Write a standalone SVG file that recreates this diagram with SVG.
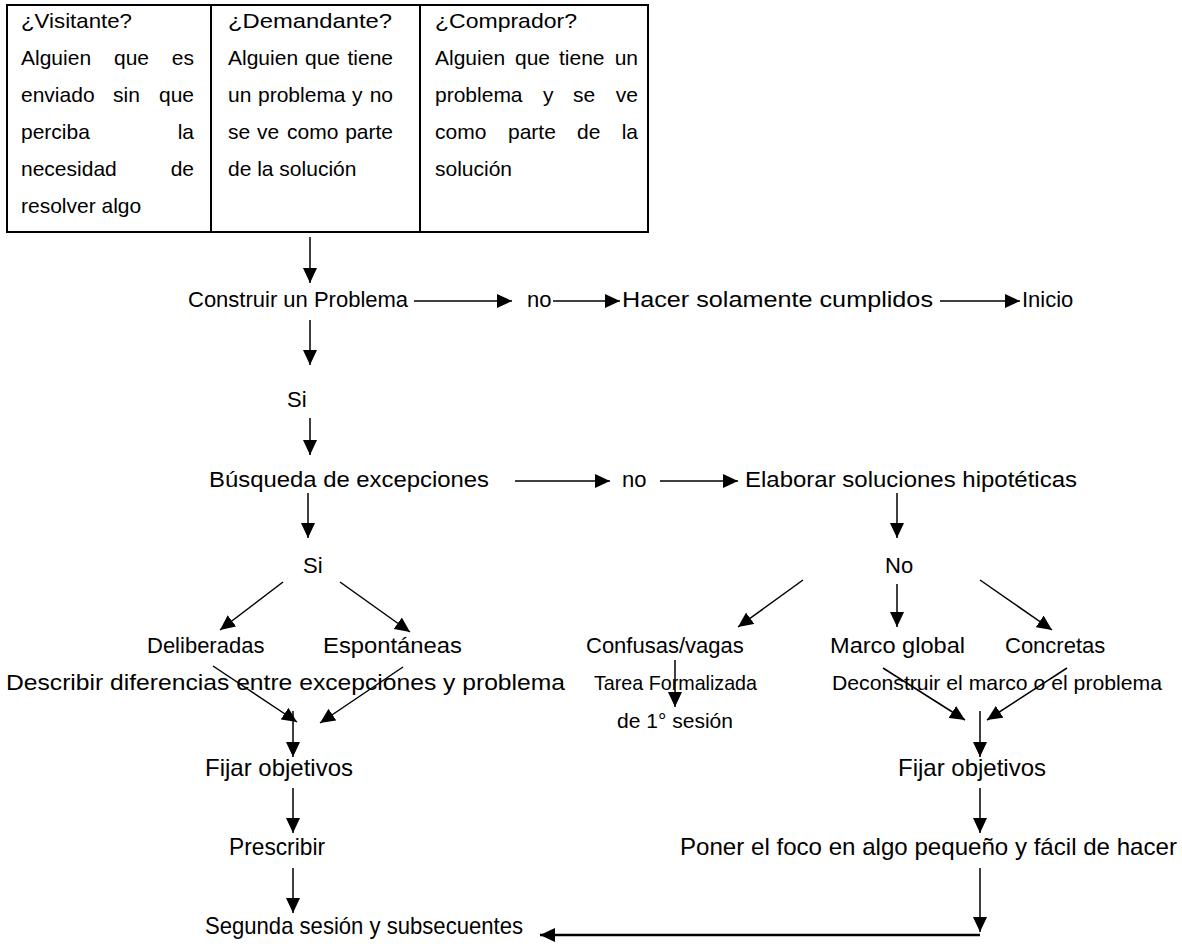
<svg xmlns="http://www.w3.org/2000/svg" width="1182" height="947" viewBox="0 0 1182 947">
<defs>
<marker id="ah" markerUnits="userSpaceOnUse" markerWidth="16" markerHeight="14" refX="15" refY="7" orient="auto">
<path d="M0,0 L15,7 L0,14 z" fill="#000"/>
</marker>
<style>
text{font-family:"Liberation Sans",Arial,sans-serif;fill:#000}
.t{font-size:21px}
.f{font-size:22px}
.n{font-size:24px}
.s{font-size:21px}
.c line{stroke:#000;stroke-width:1.5;fill:none}
.c .a{marker-end:url(#ah)}
.tb{fill:none;stroke:#000;stroke-width:2}
</style>
</defs>
<rect width="1182" height="947" fill="#fff"/>
<g id="table">
<rect class="tb" x="7" y="5" width="641" height="227"/>
<line class="tb" x1="211" y1="5" x2="211" y2="232"/>
<line class="tb" x1="420" y1="5" x2="420" y2="232"/>
<g id="visitante" class="t">
<text x="21" y="28" textLength="111" lengthAdjust="spacingAndGlyphs">¿Visitante?</text>
<text x="21" y="65">Alguien</text><text x="114" y="65">que</text><text x="194" y="65" text-anchor="end">es</text>
<text x="21" y="102">enviado</text><text x="113" y="102">sin</text><text x="194" y="102" text-anchor="end">que</text>
<text x="21" y="139">perciba</text><text x="194" y="139" text-anchor="end">la</text>
<text x="21" y="176">necesidad</text><text x="194" y="176" text-anchor="end">de</text>
<text x="21" y="213">resolver algo</text>
</g>
<g id="demandante" class="t">
<text x="228" y="28" textLength="164" lengthAdjust="spacingAndGlyphs">¿Demandante?</text>
<text x="228" y="65">Alguien</text><text x="305" y="65">que</text><text x="393" y="65" text-anchor="end">tiene</text>
<text x="228" y="102">un</text><text x="258" y="102">problema</text><text x="352" y="102">y</text><text x="393" y="102" text-anchor="end">no</text>
<text x="228" y="139">se</text><text x="257" y="139">ve</text><text x="287" y="139">como</text><text x="393" y="139" text-anchor="end">parte</text>
<text x="228" y="176">de la solución</text>
</g>
<g id="comprador" class="t">
<text x="435" y="28" textLength="142" lengthAdjust="spacingAndGlyphs">¿Comprador?</text>
<text x="435" y="65">Alguien</text><text x="515" y="65">que</text><text x="559" y="65">tiene</text><text x="638" y="65" text-anchor="end">un</text>
<text x="435" y="102">problema</text><text x="543" y="102">y</text><text x="573" y="102">se</text><text x="638" y="102" text-anchor="end">ve</text>
<text x="435" y="139">como</text><text x="508" y="139">parte</text><text x="577" y="139">de</text><text x="638" y="139" text-anchor="end">la</text>
<text x="435" y="176">solución</text>
</g>
</g>
<g id="construir"><text class="f" x="188" y="307">Construir un Problema</text></g>
<g id="no1"><text class="f" x="527" y="307">no</text></g>
<g id="hacer"><text class="f" x="622" y="307" textLength="311" lengthAdjust="spacingAndGlyphs">Hacer solamente cumplidos</text></g>
<g id="inicio"><text class="f" x="1022" y="307">Inicio</text></g>
<g id="si1"><text class="f" x="287" y="407">Si</text></g>
<g id="busqueda"><text class="f" x="209" y="487" textLength="280" lengthAdjust="spacingAndGlyphs">Búsqueda de excepciones</text></g>
<g id="no2"><text class="f" x="622" y="487">no</text></g>
<g id="elaborar"><text class="f" x="745" y="487" textLength="332" lengthAdjust="spacingAndGlyphs">Elaborar soluciones hipotéticas</text></g>
<g id="si2"><text class="f" x="303" y="573">Si</text></g>
<g id="no3"><text class="f" x="885" y="573">No</text></g>
<g id="deliberadas"><text class="f" x="147" y="653">Deliberadas</text></g>
<g id="espontaneas"><text class="f" x="323" y="653" textLength="139" lengthAdjust="spacingAndGlyphs">Espontáneas</text></g>
<g id="confusas"><text class="f" x="586" y="653">Confusas/vagas</text></g>
<g id="marco"><text class="f" x="830" y="653" textLength="135" lengthAdjust="spacingAndGlyphs">Marco global</text></g>
<g id="concretas"><text class="f" x="1005" y="653">Concretas</text></g>
<g id="describir"><text class="f" x="6" y="690" textLength="559" lengthAdjust="spacingAndGlyphs">Describir diferencias entre excepciones y problema</text></g>
<g id="tarea"><text class="s" x="594" y="690" textLength="163" lengthAdjust="spacingAndGlyphs">Tarea Formalizada</text><text class="s" x="617" y="728" textLength="116" lengthAdjust="spacingAndGlyphs">de 1° sesión</text></g>
<g id="deconstruir"><text class="s" x="832" y="690" textLength="330" lengthAdjust="spacingAndGlyphs">Deconstruir el marco o el problema</text></g>
<g id="fijar1"><text class="n" x="205" y="776" textLength="148" lengthAdjust="spacingAndGlyphs">Fijar objetivos</text></g>
<g id="fijar2"><text class="n" x="898" y="776" textLength="148" lengthAdjust="spacingAndGlyphs">Fijar objetivos</text></g>
<g id="prescribir"><text class="n" x="229" y="855" textLength="96" lengthAdjust="spacingAndGlyphs">Prescribir</text></g>
<g id="poner"><text class="n" x="680" y="855" textLength="497" lengthAdjust="spacingAndGlyphs">Poner el foco en algo pequeño y fácil de hacer</text></g>
<g id="segunda"><text class="n" x="205" y="934" textLength="318" lengthAdjust="spacingAndGlyphs">Segunda sesión y subsecuentes</text></g>
<g id="connectors" class="c">
<line class="a" x1="310" y1="237" x2="310" y2="283"/>
<line class="a" x1="414" y1="301" x2="512" y2="301"/>
<line class="a" x1="553" y1="301" x2="620" y2="301"/>
<line class="a" x1="940" y1="301" x2="1020" y2="301"/>
<line class="a" x1="310" y1="320" x2="310" y2="365"/>
<line class="a" x1="310" y1="418" x2="310" y2="455"/>
<line class="a" x1="515" y1="481" x2="610" y2="481"/>
<line class="a" x1="660" y1="481" x2="738" y2="481"/>
<line class="a" x1="308" y1="493" x2="308" y2="538"/>
<line class="a" x1="897" y1="493" x2="897" y2="538"/>
<line class="a" x1="283" y1="582" x2="220" y2="630"/>
<line class="a" x1="340" y1="582" x2="410" y2="632"/>
<line class="a" x1="213" y1="666" x2="297" y2="722"/>
<line class="a" x1="403" y1="667" x2="320" y2="723"/>
<line class="a" x1="293" y1="711" x2="293" y2="757"/>
<line class="a" x1="293" y1="788" x2="293" y2="833"/>
<line class="a" x1="293" y1="868" x2="293" y2="913"/>
<line class="a" x1="803" y1="580" x2="738" y2="627"/>
<line class="a" x1="897" y1="584" x2="897" y2="627"/>
<line class="a" x1="980" y1="580" x2="1052" y2="630"/>
<line class="a" x1="675" y1="660" x2="675" y2="707"/>
<line class="a" x1="883" y1="668" x2="965" y2="720"/>
<line class="a" x1="1067" y1="668" x2="987" y2="720"/>
<line class="a" x1="980" y1="711" x2="980" y2="757"/>
<line class="a" x1="980" y1="788" x2="980" y2="833"/>
<line class="a" x1="980" y1="868" x2="980" y2="932"/>
<line class="a" x1="980" y1="935" x2="540" y2="935" style="stroke-width:2.5"/>
</g>
</svg>
